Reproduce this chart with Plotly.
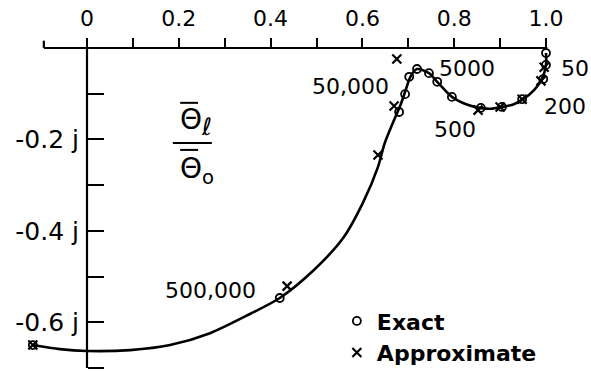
import plotly.graph_objects as go

# Locus of the temperature ratio in the complex plane (real part, imaginary part)
curve_re = [-0.118, -0.059, 0.0, 0.094, 0.181, 0.268, 0.355, 0.420, 0.492, 0.558,
            0.601, 0.634, 0.648, 0.668, 0.684, 0.695, 0.705, 0.719, 0.745, 0.763, 0.795,
            0.826, 0.856, 0.880, 0.904, 0.930, 0.950, 0.974, 0.991, 1.000, 1.000]
curve_im = [-0.650, -0.659, -0.663, -0.661, -0.650, -0.624, -0.582, -0.547, -0.488, -0.416,
            -0.339, -0.260, -0.210, -0.160, -0.122, -0.090, -0.062, -0.046, -0.055, -0.074, -0.107,
            -0.123, -0.131, -0.133, -0.129, -0.123, -0.112, -0.092, -0.068, -0.037, -0.011]

# Exact solution points
exact_re = [-0.118, 0.420, 0.680, 0.693, 0.702, 0.719, 0.745, 0.763, 0.795,
            0.858, 0.904, 0.948, 0.994, 1.000, 1.000]
exact_im = [-0.650, -0.547, -0.140, -0.101, -0.063, -0.046, -0.055, -0.074, -0.107,
            -0.131, -0.129, -0.112, -0.068, -0.037, -0.011]

# Approximate solution points
approx_re = [-0.118, 0.436, 0.634, 0.669, 0.675, 0.852, 0.900, 0.948, 0.989, 0.996]
approx_im = [-0.650, -0.521, -0.234, -0.127, -0.024, -0.136, -0.129, -0.112, -0.072, -0.042]

# Frequency labels along the locus
freq_labels = ["500,000", "50,000", "5000", "500", "200", "50"]

# Axis ticks
x_tick_vals = [0.0, 0.2, 0.4, 0.6, 0.8, 1.0]
x_tick_text = ["0", "0.2", "0.4", "0.6", "0.8", "1.0"]
x_minor_vals = [0.1, 0.3, 0.5, 0.7, 0.9]
y_tick_vals = [-0.2, -0.4, -0.6]
y_tick_text = ["-0.2 j", "-0.4 j", "-0.6 j"]
y_minor_vals = [-0.1, -0.3, -0.5, -0.7]

FONT = "DejaVu Sans"
W, H = 591, 371
X0_PX, Y0_PX, SX, SY = 87, 48, 459, 457
x_range = [-X0_PX / SX, (W - X0_PX) / SX]
y_range = [-(H - Y0_PX) / SY, Y0_PX / SY]

fig = go.Figure()

fig.add_trace(go.Scatter(
    x=curve_re, y=curve_im, mode="lines",
    line=dict(color="black", width=2.6, shape="spline", smoothing=0.8),
    showlegend=False, hoverinfo="skip"))

fig.add_trace(go.Scatter(
    x=exact_re, y=exact_im, mode="markers", name="Exact",
    marker=dict(symbol="circle-open", size=8, color="black", line=dict(width=1.8, color="black")),
    cliponaxis=False))

fig.add_trace(go.Scatter(
    x=approx_re, y=approx_im, mode="markers", name="Approximate",
    marker=dict(symbol="x-thin-open", size=9, color="black", line=dict(width=2.2, color="black")),
    cliponaxis=False))

# label placement: (x, y, xanchor)
label_pos = [(0.270, -0.530, "center"), (0.573, -0.085, "center"), (0.828, -0.044, "center"),
             (0.802, -0.179, "center"), (0.991, -0.129, "left"), (1.028, -0.044, "left")]
for txt, (lx, ly, xa) in zip(freq_labels, label_pos):
    fig.add_annotation(x=lx, y=ly, text=txt, showarrow=False, xanchor=xa, yanchor="middle",
                       font=dict(family=FONT, size=22, color="black"))

# ratio symbol: theta-bar sub l over theta-bar sub o
fig.add_annotation(x=0.198, y=-0.162,
                   text="\u0398<sub><span style='font-size:24px'><i>\u2113</i></span></sub>",
                   showarrow=False, xanchor="left", yanchor="middle",
                   font=dict(family=FONT, size=28, color="black"))
fig.add_annotation(x=0.198, y=-0.267, text="\u0398<sub>o</sub>", showarrow=False,
                   xanchor="left", yanchor="middle", font=dict(family=FONT, size=28, color="black"))
fig.add_shape(type="line", x0=0.187, x1=0.272, y0=-0.208, y1=-0.208,
              line=dict(color="black", width=2))
fig.add_shape(type="line", x0=0.203, x1=0.242, y0=-0.120, y1=-0.120,
              line=dict(color="black", width=2))
fig.add_shape(type="line", x0=0.203, x1=0.242, y0=-0.223, y1=-0.223,
              line=dict(color="black", width=2))

# axis lines crossing at the origin
fig.add_shape(type="line", x0=-0.094, x1=1.003, y0=0, y1=0, line=dict(color="black", width=2.2))
fig.add_shape(type="line", x0=-0.094, x1=-0.094, y0=0, y1=0.016, line=dict(color="black", width=2.2))
fig.add_shape(type="line", x0=0, x1=0, y0=0, y1=-0.700, line=dict(color="black", width=2.2))

fig.update_layout(
    width=W, height=H,
    margin=dict(l=0, r=0, t=0, b=0, autoexpand=False),
    paper_bgcolor="white", plot_bgcolor="white",
    font=dict(family=FONT, color="black"),
    xaxis=dict(range=x_range, domain=[0, 1], anchor="free", position=1 - Y0_PX / H, side="top",
               showgrid=False, zeroline=False, showline=False,
               tickmode="array", tickvals=x_tick_vals, ticktext=x_tick_text,
               ticks="outside", ticklen=10, tickwidth=2, tickcolor="black",
               minor=dict(tickmode="array", tickvals=x_minor_vals, ticks="outside",
                          ticklen=10, tickwidth=2, tickcolor="black", showgrid=False),
               ticklabelstandoff=3, tickfont=dict(family=FONT, size=22, color="black")),
    yaxis=dict(range=y_range, domain=[0, 1], anchor="free", position=X0_PX / W,
               showgrid=False, zeroline=False, showline=False,
               tickmode="array", tickvals=y_tick_vals, ticktext=y_tick_text,
               ticks="inside", ticklen=16, tickwidth=2, tickcolor="black",
               minor=dict(tickmode="array", tickvals=y_minor_vals, ticks="inside",
                          ticklen=16, tickwidth=2, tickcolor="black", showgrid=False),
               ticklabelstandoff=8, tickfont=dict(family=FONT, size=25, color="black")),
    legend=dict(x=0.570, y=0.191, xanchor="left", yanchor="top", bgcolor="rgba(0,0,0,0)",
                font=dict(family=FONT, size=22, color="black", weight="bold"),
                tracegroupgap=0, itemwidth=30),
)

fig.write_html("out.html")
